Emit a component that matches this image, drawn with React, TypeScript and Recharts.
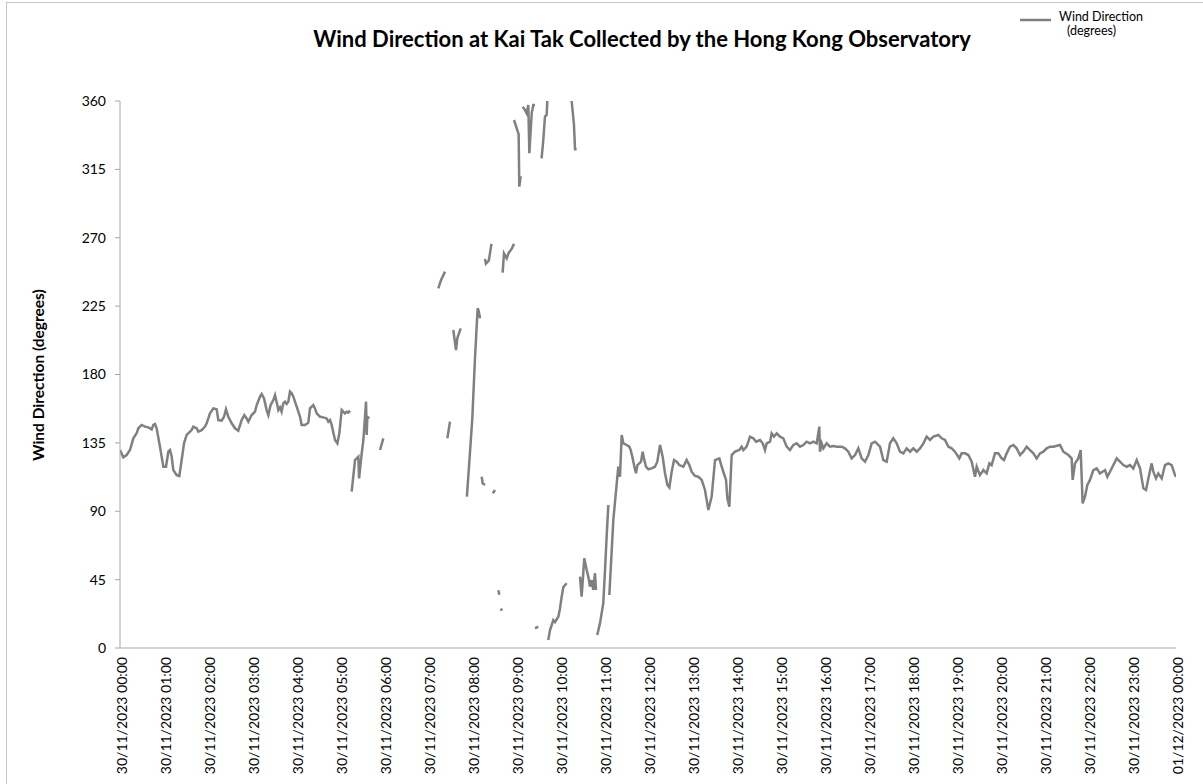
import React from 'react';
import { LineChart, Line, XAxis, YAxis, Legend } from 'recharts';

// Time in minutes after 30/11/2023 00:00; null entries mark gaps in the record
const minutes: number[] = [
  0, 4.5, 9.1, 13.6, 18.2, 22.7, 25, 29.5, 34.1, 38.6, 43.2, 45.5, 47.7, 50, 54.5, 59.1, 62.7, 65.9, 68.2, 70.5,
  72.7, 77.3, 80.9, 84.1, 87.3, 90.9, 95.5, 97.7, 100, 104.5, 106.8, 111.4, 115.9, 118.2, 122.7, 127.3, 131.8, 134.1, 138.6, 141.8,
  144.5, 147.7, 152.3, 156.8, 161.3, 165.9, 169.5, 172.7, 175, 179.5, 184.1, 186.4, 190.9, 193.2, 196.4, 200, 202.3, 205.4, 209.1, 211.4,
  214.5, 215.9, 218.2, 220.4, 222.7, 225, 227.3, 229.5, 231.8, 234.1, 236.4, 240.9, 245.5, 247.7, 252.3, 256.8, 259.1, 263.6, 265.9, 268.2,
  272.7, 277.3, 281.8, 284.1, 286.4, 288.6, 293.2, 296.4, 299.1, 302.3, 306.8, 309.1, 311.4, 313.6,
  314.8,
  315.9, 320.5, 325, 326, 329.6, 331.9, 335.5, 336.4, 337.3, 340,
  347,
  354.6, 359.1,
  400,
  434, 437.7, 443.2,
  445,
  446.4, 450,
  452,
  454.5, 458.2, 460, 464.6,
  470,
  473, 476, 480.4, 484, 487.7, 489, 491,
  492,
  493.2, 494.5, 497.7,
  497.7,
  497.7, 499, 503, 506.5,
  507,
  508.3, 511.4,
  513,
  515.9, 517.3,
  518,
  519.5, 520.5,
  521,
  521.8, 523.6, 527.3, 530, 534.5, 537.3,
  537.3,
  537.3, 541.8, 543.6, 544.5, 546.4,
  548,
  549.1, 552.3, 554.5, 556.8, 558.2, 561.4, 563.6, 565.9,
  566,
  566, 570.4,
  572,
  574.9, 577.2, 579.5, 581.8, 582.7,
  583,
  584, 586.4, 590.9, 593.2, 597.7, 600, 602.3, 604.5, 609.1,
  612,
  615.9, 619, 620.5, 622.7,
  625,
  627.3, 629.5, 633.1, 636.4, 638.6, 640.9, 643.2, 645.4, 647.7, 649.1,
  650,
  650.8, 654.5, 659, 661.4, 663.6, 665.9,
  666.5,
  667.3, 672.7, 679.5, 681.8, 684.1, 686.4, 690.9, 694.5, 696.4, 699.1, 701.4, 703.6, 705.5, 708.2, 710.5, 712.7, 714.5, 717.3, 720.5, 725,
  729.5, 732.7, 736.4, 740, 743.2, 746.4, 749.1, 752.3, 755.5, 759.1, 762.7, 768.2, 772.7, 776.4, 779.5, 784.1, 788.6, 793.2, 797.7, 802.3,
  806.8, 811.4, 817.3, 820.5, 822.7, 826.4, 828.2, 830.9, 834.1, 838.6, 844.5, 847.7, 850, 854.5, 859.1, 863.6, 867.3, 872.7, 876.4, 879.5,
  881.8, 886.4, 888.6, 891.8, 895.5, 900, 904.5, 909.1, 913.6, 918.2, 922.7, 927.3, 931.8, 936.4, 940.9, 945.5, 950, 953.6, 954.5, 956.8,
  959.1, 963.6, 968.2, 972.7, 977.3, 984.1, 988.6, 993.2, 997.7, 1002.3, 1006.8, 1011.4, 1015.9, 1020.5, 1025, 1029.5, 1036.4, 1040.9, 1045.5, 1050,
  1054.5, 1059.1, 1063.6, 1068.2, 1072.7, 1077.3, 1081.8, 1086.4, 1090.9, 1095.5, 1100, 1104.5, 1109.1, 1115.9, 1120.5, 1125, 1129.5, 1134.1, 1138.6, 1144.5,
  1147.7, 1152.3, 1156.8, 1161.4, 1165.9, 1168.2, 1172.7, 1177.3, 1181.8, 1185.5, 1188.6, 1193.2, 1197.7, 1202.3, 1205.5, 1209.1, 1213.6, 1218.2, 1222.7, 1227.3,
  1231.8, 1236.4, 1240.9, 1245.5, 1250, 1254.5, 1259.1, 1263.6, 1268.2, 1272.7, 1281.8, 1286.4, 1293.2, 1297.7, 1299.1, 1302.3, 1306.8, 1310, 1312.7, 1315.9,
  1319.1, 1322.7, 1327.3, 1331.8, 1336.4, 1343.2, 1346.4, 1350, 1359.1, 1363.6, 1368.2, 1372.7, 1377.3, 1381.8, 1386.4, 1390.9, 1395.5, 1399.1, 1402.3, 1406.8,
  1409.1, 1412.7, 1415.9, 1420.5, 1425, 1429.5, 1434.1, 1438.6, 1440,
];

// Wind direction (degrees)
const direction: (number | null)[] = [
  130.3, 125.5, 127.0, 130.3, 138.0, 141.3, 144.6, 146.8, 145.7, 145.2, 143.9, 146.8, 147.4, 144.6, 132.5, 119.3, 119.3, 129.2, 130.3, 125.9,
  117.1, 113.8, 113.2, 123.7, 134.7, 140.2, 142.4, 143.4, 145.7, 144.6, 142.4, 143.4, 145.7, 147.9, 154.4, 157.7, 157.1, 150.0, 149.6, 152.2,
  157.1, 152.2, 147.9, 144.6, 143.0, 150.0, 153.3, 151.1, 148.9, 153.3, 155.5, 159.9, 165.4, 167.2, 164.3, 156.6, 153.3, 159.9, 163.2, 166.5,
  159.9, 156.6, 158.4, 155.5, 161.0, 162.1, 160.6, 162.1, 168.7, 167.6, 165.4, 158.8, 152.2, 146.8, 146.8, 148.3, 157.7, 159.9, 157.7, 154.4,
  152.2, 151.8, 151.1, 148.9, 150.0, 146.8, 136.9, 134.7, 141.3, 156.6, 154.4, 155.5, 154.9, 156.2,
  null,
  102.9, 123.7, 125.9, 111.6, 128.1, 136.9, 162.1, 140.2, 152.2, 151.1,
  null,
  130.3, 138.0,
  null,
  236.7, 242.0, 247.7,
  null,
  138.0, 149.0,
  null,
  209.3, 196.0, 204.0, 210.4,
  null,
  99.6, 120.0, 151.0, 190.0, 223.6, 222.0, 217.0,
  null,
  112.7, 108.4, 107.3,
  null,
  256.0, 253.0, 255.0, 266.0,
  null,
  101.8, 104.0,
  null,
  38.0, 35.0,
  null,
  26.0, 24.5,
  null,
  247.0, 259.7, 256.4, 260.0, 263.0, 266.0,
  null,
  347.5, 340.9, 338.0, 303.6, 310.6,
  null,
  356.2, 354.0, 351.9, 357.4, 325.6, 351.9, 357.4, 357.4,
  null,
  13.0, 14.0,
  null,
  322.3, 334.3, 349.7, 350.8, 360.0,
  null,
  5.3, 11.8, 18.4, 17.0, 20.6, 26.0, 33.8, 40.0, 42.6,
  null,
  360.0, 344.7, 328.3, 328.3,
  null,
  47.0, 33.8, 59.0, 51.3, 47.0, 40.4, 44.7, 38.2, 49.2, 38.2,
  null,
  8.6, 16.2, 29.4, 51.3, 73.3, 94.1,
  null,
  34.9, 84.2, 119.3, 112.7, 140.2, 134.7, 133.6, 132.5, 130.3, 124.8, 119.3, 115.0, 120.4, 121.5, 122.6, 129.2, 124.8, 119.3, 117.6, 118.2,
  119.3, 122.6, 133.6, 125.9, 115.0, 107.3, 105.7, 116.0, 123.7, 122.6, 120.4, 119.3, 123.7, 120.4, 116.0, 113.2, 112.7, 110.6, 104.0, 90.8,
  99.6, 123.7, 124.8, 119.3, 116.0, 110.6, 98.5, 93.0, 127.0, 129.2, 130.3, 132.5, 130.3, 132.5, 139.1, 138.0, 135.8, 136.9, 134.7, 130.3,
  134.7, 135.8, 141.3, 139.1, 141.3, 139.1, 138.0, 132.5, 130.3, 133.6, 134.7, 132.5, 133.6, 135.8, 134.7, 135.8, 134.7, 145.7, 129.2, 134.7,
  131.4, 134.7, 132.5, 132.9, 132.5, 132.5, 131.4, 129.2, 124.8, 127.0, 131.4, 124.8, 122.6, 127.0, 134.7, 135.8, 132.5, 123.7, 122.6, 134.7,
  138.0, 134.7, 129.2, 128.1, 131.4, 129.2, 131.4, 129.2, 131.4, 134.7, 139.1, 136.9, 139.1, 140.2, 138.0, 136.9, 132.5, 131.4, 129.2, 124.8,
  128.1, 128.1, 127.0, 122.6, 112.7, 119.3, 113.8, 117.1, 114.9, 121.5, 120.4, 128.1, 128.1, 124.8, 123.7, 128.1, 132.5, 133.6, 131.4, 127.0,
  129.2, 132.5, 130.3, 128.1, 124.8, 128.1, 129.2, 131.4, 132.5, 132.5, 133.6, 129.2, 127.0, 124.8, 110.6, 121.5, 124.8, 130.3, 95.2, 99.6,
  107.3, 110.6, 117.1, 118.2, 114.9, 117.1, 112.7, 116.0, 124.8, 122.6, 120.4, 119.3, 120.4, 118.2, 123.7, 118.2, 105.1, 104.0, 111.6, 121.5,
  116.0, 111.6, 114.9, 111.6, 120.4, 121.5, 120.4, 113.8, 112.7,
];

const hourTicks: number[] = [
  0, 60, 120, 180, 240, 300, 360, 420, 480, 540, 600, 660, 720, 780, 840, 900, 960, 1020, 1080, 1140, 1200, 1260, 1320, 1380, 1440,
];
const tickLabels: string[] = [
  '30/11/2023 00:00', '30/11/2023 01:00', '30/11/2023 02:00', '30/11/2023 03:00', '30/11/2023 04:00',
  '30/11/2023 05:00', '30/11/2023 06:00', '30/11/2023 07:00', '30/11/2023 08:00', '30/11/2023 09:00',
  '30/11/2023 10:00', '30/11/2023 11:00', '30/11/2023 12:00', '30/11/2023 13:00', '30/11/2023 14:00',
  '30/11/2023 15:00', '30/11/2023 16:00', '30/11/2023 17:00', '30/11/2023 18:00', '30/11/2023 19:00',
  '30/11/2023 20:00', '30/11/2023 21:00', '30/11/2023 22:00', '30/11/2023 23:00', '01/12/2023 00:00',
];
const degreeTicks: number[] = [0, 45, 90, 135, 180, 225, 270, 315, 360];

const data = minutes.map((t, i) => ({ t, v: direction[i] }));

const FONT = 'Lato, "Liberation Sans", sans-serif';
const LINE_COLOR = '#808080';
const AXIS_COLOR = '#a6a6a6';

const XTick = (props: any) => {
  const { x, y, payload } = props;
  const idx = hourTicks.indexOf(payload.value);
  const label = idx >= 0 ? tickLabels[idx] : '';
  const ty = y + 1;
  return (
    <text
      x={x + 1}
      y={ty}
      transform={`rotate(-90 ${x + 1} ${ty})`}
      textAnchor="end"
      dominantBaseline="central"
      fontFamily={FONT}
      fontSize={14}
      fill="#000"
    >
      {label}
    </text>
  );
};

const LegendContent = () => (
  <div style={{ position: 'relative', width: 180, height: 40, fontFamily: FONT, fontSize: 12.5, color: '#000' }}>
    <svg width={32} height={6} style={{ position: 'absolute', left: 0, top: 11 }}>
      <line x1={0} y1={3} x2={31} y2={3} stroke={LINE_COLOR} strokeWidth={2.5} />
    </svg>
    <div style={{ position: 'absolute', left: 39, top: 4, lineHeight: '14px' }}>
      Wind Direction
      <br />
      <span style={{ marginLeft: 8 }}>(degrees)</span>
    </div>
  </div>
);

export default function App() {
  return (
    <div style={{ position: 'absolute', left: 0, top: 0, width: 1203, height: 784, overflow: 'hidden', background: '#fff' }}>
      <div
        style={{
          position: 'absolute',
          left: 6,
          top: 2,
          width: 1250,
          height: 850,
          border: '1px solid #c6c6c6',
          boxSizing: 'border-box',
        }}
      />
      <div
        style={{
          position: 'absolute',
          left: 0,
          top: 25,
          width: 1284,
          textAlign: 'center',
          fontFamily: FONT,
          fontWeight: 'bold',
          fontSize: 22,
          color: '#000',
        }}
      >
        Wind Direction at Kai Tak Collected by the Hong Kong Observatory
      </div>
      <div style={{ position: 'absolute', left: 0, top: 0 }}>
        <LineChart width={1203} height={784} data={data} margin={{ top: 101, right: 27, bottom: 0, left: 0 }}>
          <XAxis
            dataKey="t"
            type="number"
            domain={[0, 1440]}
            ticks={hourTicks}
            interval={0}
            tickLine={false}
            axisLine={{ stroke: AXIS_COLOR, strokeWidth: 1 }}
            height={136}
            tick={<XTick />}
            allowDataOverflow
          />
          <YAxis
            type="number"
            domain={[0, 360]}
            ticks={degreeTicks}
            interval={0}
            width={120}
            tickSize={5}
            tickMargin={9}
            tickLine={{ stroke: AXIS_COLOR }}
            axisLine={{ stroke: AXIS_COLOR, strokeWidth: 1 }}
            tick={{ fontFamily: FONT, fontSize: 14, fill: '#000' }}
            label={{
              content: () => (
                <text
                  x={38}
                  y={375}
                  transform="rotate(-90 38 375)"
                  textAnchor="middle"
                  dominantBaseline="central"
                  fontFamily={FONT}
                  fontWeight="bold"
                  fontSize={15.5}
                  fill="#000"
                >
                  Wind Direction (degrees)
                </text>
              ),
            }}
          />
          <Legend
            layout="horizontal"
            verticalAlign="middle"
            align="center"
            content={<LegendContent />}
            wrapperStyle={{ position: 'absolute', left: 1020, top: 6, width: 180, height: 40 }}
          />
          <Line
            type="linear"
            dataKey="v"
            name="Wind Direction (degrees)"
            stroke={LINE_COLOR}
            strokeWidth={2.5}
            dot={false}
            activeDot={false}
            connectNulls={false}
            isAnimationActive={false}
          />
        </LineChart>
      </div>
    </div>
  );
}
